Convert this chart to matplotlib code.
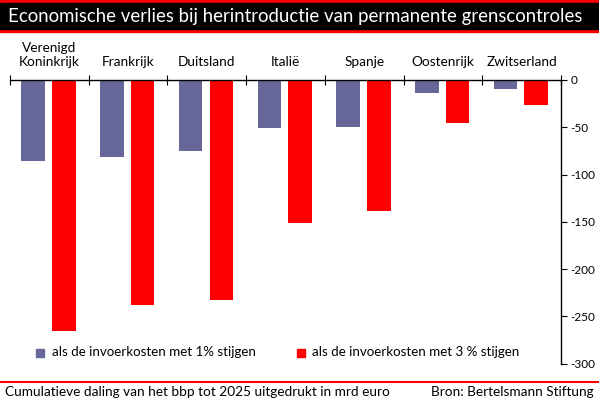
import matplotlib.pyplot as plt
import numpy as np

countries = ["Verenigd\nKoninkrijk", "Frankrijk", "Duitsland", "Italië",
             "Spanje", "Oostenrijk", "Zwitserland"]
loss_1pct = [-86, -81, -75.5, -51, -49.5, -14, -10]
loss_3pct = [-266, -238.5, -233, -151, -139, -45, -26]
yticks = [0, -50, -100, -150, -200, -250, -300]

title = "Economische verlies bij herintroductie van permanente grenscontroles"
label_1 = "als de invoerkosten met 1% stijgen"
label_3 = "als de invoerkosten met 3 % stijgen"
footer_left = "Cumulatieve daling van het bbp tot 2025 uitgedrukt in mrd euro"
footer_right = "Bron: Bertelsmann Stiftung"

BLUE = "#666699"
RED = "#ff0000"
W, H = 599, 399

plt.rcParams["font.family"] = ["Lato", "DejaVu Sans"]

fig = plt.figure(figsize=(W / 100, H / 100), dpi=100)

# title band: red line on top and bottom, black in between
fig.patches.append(plt.Rectangle((0, 1 - 31.5 / H), 1, 31.5 / H, transform=fig.transFigure,
                                 color=RED, zorder=0))
fig.patches.append(plt.Rectangle((0, 1 - 29 / H), 1, 26 / H, transform=fig.transFigure,
                                 color="black", zorder=1))
fig.text(8 / W, 1 - 16.5 / H, title, color="white", fontsize=13.4, va="center", ha="left")

# footer
fig.add_artist(plt.Line2D([0, 1], [1 - 382 / H] * 2, transform=fig.transFigure,
                          color=RED, lw=1.5))
fig.text(5 / W, 1 - 391.5 / H, footer_left, fontsize=9.8, va="center", ha="left")
fig.text(594 / W, 1 - 391.5 / H, footer_right, fontsize=9.8, va="center", ha="right")

ax = fig.add_axes([10 / W, 1 - 363.5 / H, 551 / W, 283.5 / H])
x = np.arange(len(countries)) + 0.5
bw = 0.30
ax.bar(x - 0.205, loss_1pct, bw, color=BLUE)
ax.bar(x + 0.185, loss_3pct, bw, color=RED)

ax.set_xlim(0, len(countries))
ax.set_ylim(-300, 0)
for s in ["left", "bottom"]:
    ax.spines[s].set_visible(False)
ax.spines["top"].set_linewidth(1)
ax.spines["right"].set_linewidth(1)

ax.yaxis.tick_right()
ax.set_yticks(yticks)
ax.set_yticklabels([str(v) for v in yticks], fontsize=8.5)
ax.tick_params(axis="y", direction="out", length=4, pad=3)

ax.xaxis.tick_top()
ax.set_xticks(np.arange(len(countries) + 1))
ax.set_xticklabels([])
ax.tick_params(axis="x", direction="inout", length=7)

# country names above the axis line
for xi, name in zip(x, countries):
    ax.annotate(name, (xi, 1), xycoords=("data", "axes fraction"),
                xytext=(0, 12), textcoords="offset pixels",
                ha="center", va="bottom", fontsize=9.8, linespacing=1.25)

# legend
fig.patches.append(plt.Rectangle((36 / W, 1 - 356.5 / H), 8 / W, 8 / H,
                                 transform=fig.transFigure, color=BLUE))
fig.text(51.5 / W, 1 - 352.5 / H, label_1, fontsize=9.6, va="center", ha="left")
fig.patches.append(plt.Rectangle((297 / W, 1 - 356.5 / H), 8 / W, 8 / H,
                                 transform=fig.transFigure, color=RED))
fig.text(312.5 / W, 1 - 352.5 / H, label_3, fontsize=9.6, va="center", ha="left")

fig.savefig("out.png", dpi=100)
